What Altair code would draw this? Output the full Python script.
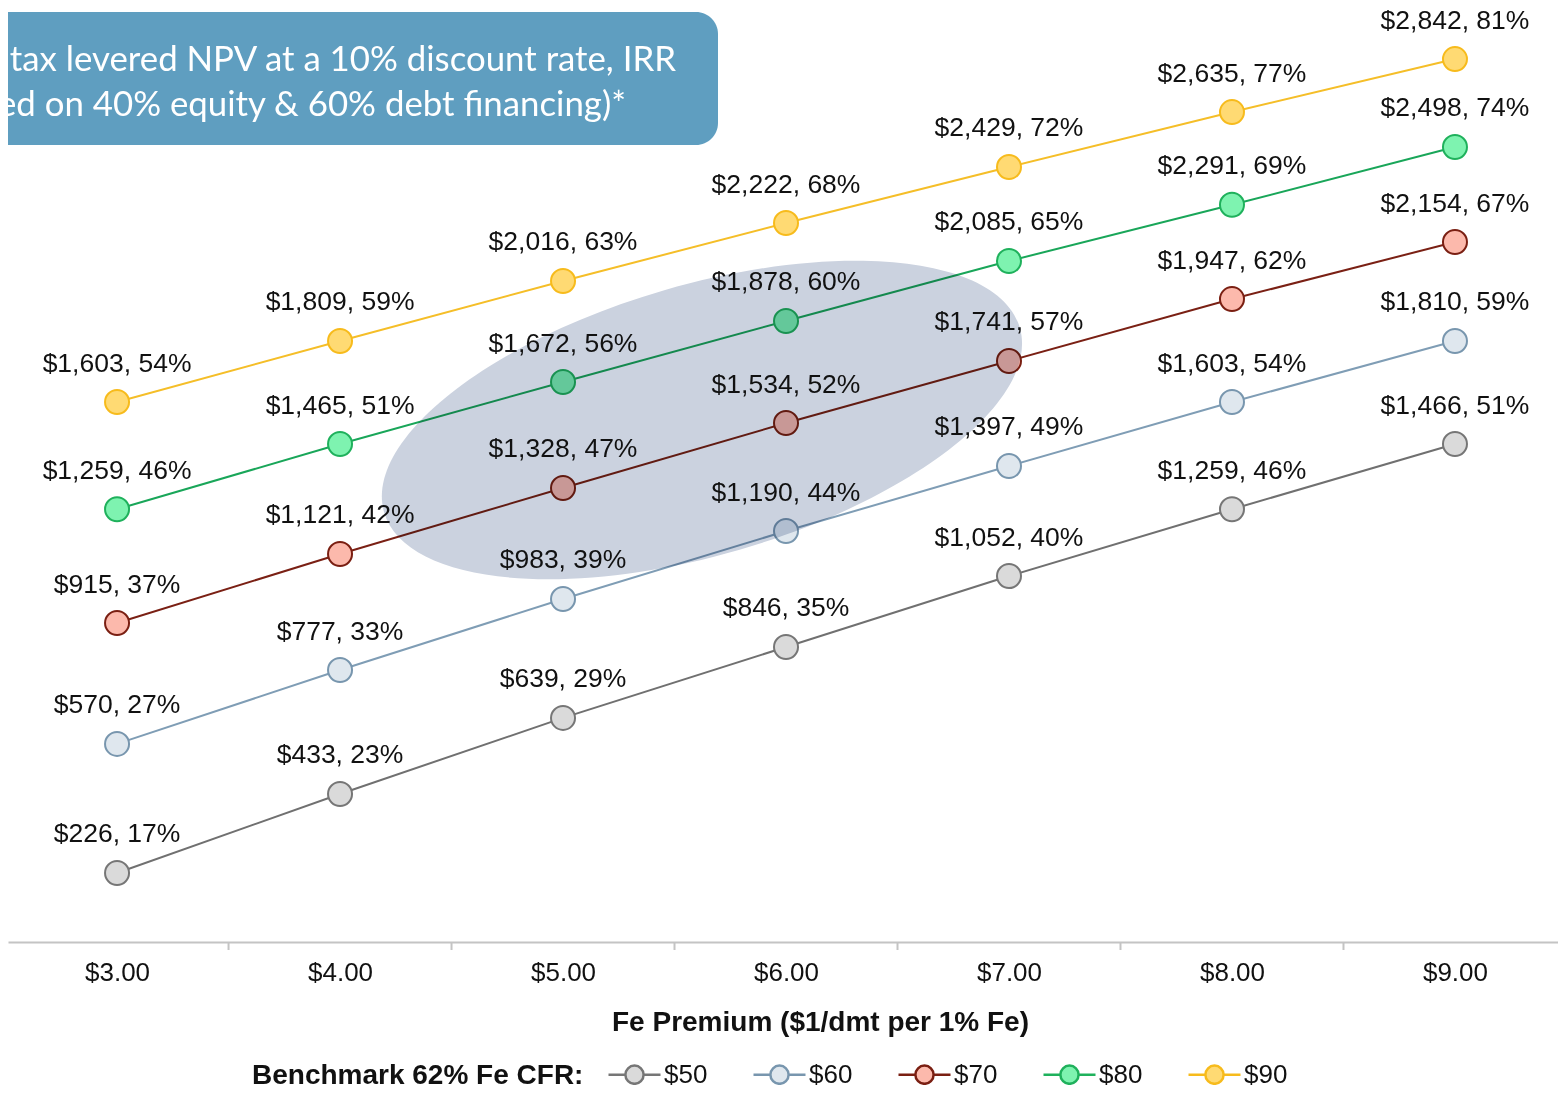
import altair as alt
import pandas as pd

# ---- data -------------------------------------------------------------
premiums = [3, 4, 5, 6, 7, 8, 9]
series = ["$50", "$60", "$70", "$80", "$90"]

npv_50 = [226, 433, 639, 846, 1052, 1259, 1466]
npv_60 = [570, 777, 983, 1190, 1397, 1603, 1810]
npv_70 = [915, 1121, 1328, 1534, 1741, 1947, 2154]
npv_80 = [1259, 1465, 1672, 1878, 2085, 2291, 2498]
npv_90 = [1603, 1809, 2016, 2222, 2429, 2635, 2842]

irr_lbl_50 = [17, 23, 29, 35, 40, 46, 51]
irr_lbl_60 = [27, 33, 39, 44, 49, 54, 59]
irr_lbl_70 = [37, 42, 47, 52, 57, 62, 67]
irr_lbl_80 = [46, 51, 56, 60, 65, 69, 74]
irr_lbl_90 = [54, 59, 63, 68, 72, 77, 81]

# plotted IRR (unrounded)
irr_50 = [17.00, 23.20, 29.17, 34.74, 40.31, 45.55, 50.67]
irr_60 = [27.13, 32.93, 38.51, 43.84, 48.95, 53.97, 58.76]
irr_70 = [36.62, 42.04, 47.22, 52.32, 57.19, 62.05, 66.53]
irr_80 = [45.55, 50.67, 55.54, 60.33, 65.04, 69.45, 73.99]
irr_90 = [53.97, 58.76, 63.47, 68.02, 72.42, 76.73, 80.89]

fill_colors = ["#dadada", "#dfe7ee", "#fcb9ac", "#7ef3b0", "#ffda73"]
stroke_colors = ["#767676", "#7896ae", "#7a1f12", "#1fb15c", "#f7bb1c"]
line_colors = ["#707070", "#7f9db5", "#7a2014", "#19a659", "#f5be28"]

callout_lines = ["(After tax levered NPV at a 10% discount rate, IRR",
                 "based on 40% equity & 60% debt financing)*"]

# highlight ellipse (centre in data units)
ellipse_x = [5.623]
ellipse_y = [52.56]

rows = []
for s, npv, lbl, irr in zip(series,
                            [npv_50, npv_60, npv_70, npv_80, npv_90],
                            [irr_lbl_50, irr_lbl_60, irr_lbl_70, irr_lbl_80, irr_lbl_90],
                            [irr_50, irr_60, irr_70, irr_80, irr_90]):
    for p, n, l, v in zip(premiums, npv, lbl, irr):
        rows.append({"premium": p, "series": s, "irr": v,
                     "label": f"${n:,}, {l}%"})
df = pd.DataFrame(rows)

FONT = "Liberation Sans"
W, H = 1550, 934

xscale = alt.Scale(domain=[2.511, 9.462], nice=False, zero=False)
yscale = alt.Scale(domain=[11.58, 84.9], nice=False, zero=False)

x_enc = alt.X("premium:Q", scale=xscale,
              axis=alt.Axis(values=premiums, format="$.2f", grid=False, ticks=False, tickSize=0,
                            domainColor="#c4c4c4", domainWidth=2,
                            labelFont=FONT, labelFontSize=26, labelColor="#111111",
                            labelBaseline="middle", labelPadding=30,
                            title="Fe Premium ($1/dmt per 1% Fe)",
                            titleFont=FONT, titleFontSize=28, titleFontWeight="bold",
                            titleColor="#111111", titleX=812, titleY=80,
                            titleAlign="center", titleBaseline="middle"))
y_enc = alt.Y("irr:Q", scale=yscale, axis=None)

base = alt.Chart(df)

# line colours: data-driven domain (sorted = series order), no legend
lines = base.mark_line(strokeWidth=2).encode(
    x=x_enc, y=y_enc,
    color=alt.Color("series:N", scale=alt.Scale(range=line_colors), legend=None),
)

sym_path = ("M-1,0L-0.35,0M0.35,0L1,0"
            "M0.35,0A0.35,0.35,0,1,1,-0.35,0A0.35,0.35,0,1,1,0.35,0Z")

def leg():
    return alt.Legend(orient="none", legendX=244, legendY=1039, direction="horizontal",
                      title="Benchmark 62% Fe CFR:", titleOrient="left", titleLimit=500,
                      titleAnchor="middle", titleBaseline="line-top", titleLineHeight=16,
                      titleFont=FONT, titleFontSize=28, titleFontWeight="bold",
                      titleColor="#111111", titlePadding=23,
                      labelFont=FONT, labelFontSize=26, labelColor="#111111",
                      labelOffset=2, columnPadding=40, columns=5,
                      symbolType=sym_path, symbolSize=2704, symbolStrokeWidth=2.5,
                      symbolOpacity=1)

points = base.mark_point(filled=True, size=576, strokeWidth=2, opacity=1).encode(
    x="premium:Q", y="irr:Q",
    fill=alt.Fill("series:N", scale=alt.Scale(domain=series, range=fill_colors), legend=leg()),
    stroke=alt.Stroke("series:N", scale=alt.Scale(domain=series, range=stroke_colors), legend=leg()),
)

labels = base.mark_text(font=FONT, fontSize=26.5, color="#111111", dy=-38.5,
                        baseline="middle", align="center").encode(
    x="premium:Q", y="irr:Q", text="label:N")

ell_df = pd.DataFrame({"premium": ellipse_x, "irr": ellipse_y})
ellipse = alt.Chart(ell_df).mark_point(
    shape="M-1,0A1,0.408,0,1,1,1,0A1,0.408,0,1,1,-1,0Z",
    size=662 * 662, angle=343.8, filled=True, fill="#cbd2df", strokeWidth=0,
    opacity=1, blend="multiply").encode(x="premium:Q", y="irr:Q")

tick_df = pd.DataFrame({"premium": [p + 0.5 for p in premiums[:-1]]})
ticks = alt.Chart(tick_df).mark_rule(color="#c4c4c4", strokeWidth=2).encode(
    x="premium:Q", y=alt.value(H), y2=alt.value(H + 8))

box = alt.Chart(pd.DataFrame({"a": [0]})).mark_rect(
    cornerRadius=22, fill="#5f9ec0").encode(
    x=alt.value(-40), x2=alt.value(710), y=alt.value(4), y2=alt.value(137))

box_t1 = alt.Chart(pd.DataFrame({"t": [callout_lines[0]]})).mark_text(
    font="Lato", fontSize=34.8, color="white", align="right", baseline="middle").encode(
    x=alt.value(668), y=alt.value(53), text="t:N")
box_t2 = alt.Chart(pd.DataFrame({"t": [callout_lines[1]]})).mark_text(
    font="Lato", fontSize=34.8, color="white", align="right", baseline="middle").encode(
    x=alt.value(618), y=alt.value(98), text="t:N")

chart = alt.layer(lines, points, ellipse, labels, ticks, box, box_t1, box_t2).properties(
    width=W, height=H,
    autosize=alt.AutoSizeParams(type="none"),
    padding={"left": 0, "top": 0, "right": 0, "bottom": 143},
).configure(background="white").configure_view(stroke=None)

chart.save("out.html", embed_options={"renderer": "svg", "actions": False})
